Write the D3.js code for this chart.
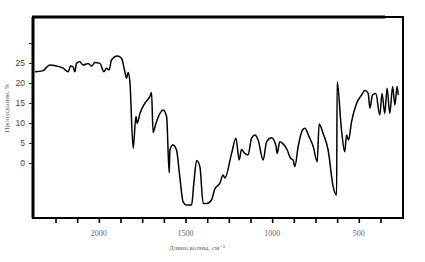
<!DOCTYPE html>
<html>
<head>
<meta charset="utf-8">
<script src="https://cdn.jsdelivr.net/npm/d3@7"></script>
<style>
  body { margin: 0; background: #fff; }
  svg { display: block; font-family: "Liberation Serif", "DejaVu Serif", serif; }
</style>
</head>
<body>
<div id="chart"></div>
<script>
// IR spectrum: wavenumber (cm-1) and transmittance (%)
var wavenumber = [2369, 2321, 2302, 2283, 2244, 2206, 2177, 2163, 2148, 2139, 2129, 2110, 2091, 2062, 2042, 2023,
    1994, 1971, 1956, 1941, 1927, 1894, 1869, 1850, 1840, 1831, 1821, 1802, 1786, 1779, 1763, 1735, 1706, 1696,
    1687, 1671, 1629, 1609, 1594, 1590, 1573, 1552, 1533, 1514, 1494, 1465, 1452, 1436, 1417, 1398, 1377, 1350,
    1331, 1302, 1283, 1273, 1234, 1209, 1190, 1177, 1158, 1139, 1119, 1100, 1081, 1052, 1032, 1004, 979, 971,
    956, 940, 913, 894, 879, 869, 850, 825, 811, 787, 763, 740, 729, 706, 677, 648, 628, 625, 600, 581, 571, 559,
    542, 513, 484, 465, 446, 436, 421, 402, 379, 366, 350, 337, 321, 305, 292, 279, 273];
var transmittance = [22.8, 23.1, 23.9, 24.5, 24.25, 23.7, 22.8, 24.25, 24, 22.8, 24.9, 25.3, 24.5, 24.9, 24.25, 25.1,
    24.9, 22.8, 23.7, 23.25, 25.75, 26.75, 26.2, 22.8, 21.2, 22.6, 20.3, 3.7, 11.6, 9.9, 12.4, 14.9, 16.6, 17.6,
    7.6, 9.9, 13.25, 11.6, -2.5, 3.25, 4.5, 3.25, -3.4, -9.7, -10.5, -10.5, -5.1, 0.6, -0.9, -10.1, -10.1, -9.25,
    -6.5, -5.1, -3, -3.75, 2.4, 6.2, 0.75, 3.4, 2.4, 2, 6.2, 7, 5.75, 0.75, 5.3, 6.3, 4.5, 2.4,
    5.3, 4.9, 3.25, 1.2, 0.75, -0.9, 4.1, 8.25, 8.7, 6.6, 4.1, 0.3, 9.75, 7.4, 3.25, -5.9, -8, 20.3, 8.25, 2.8, 7, 5.75,
    10.3, 14.9, 17, 18.1, 17.4, 13.7, 17, 17.4, 12, 17.4, 12.4, 18.7, 12.4, 19.1, 14.5, 19.1, 17];

var xTicks = [2250, 2125, 2000, 1875, 1750, 1625, 1500, 1375, 1250, 1125, 1000, 875, 750, 625, 500, 375];
var xLabels = [2000, 1500, 1000, 500];
var yTicks = [0, 5, 10, 15, 20, 25, 30];
var yLabels = [0, 5, 10, 15, 20, 25];

var ctx = {
    w: 425,
    h: 262,
    left: 33,
    right: 403,
    top: 17,
    bottom: 218
};

var svg = d3.select("#chart").append("svg")
    .attr("width", ctx.w)
    .attr("height", ctx.h);

var x = d3.scaleLinear()
    .domain([2380, 245])
    .range([ctx.left, ctx.right]);

var y = d3.scaleLinear()
    .domain([-13.75, 36.5])
    .range([ctx.bottom, ctx.top]);

// frame
svg.append("rect")
    .attr("x", ctx.left)
    .attr("y", ctx.top)
    .attr("width", ctx.right - ctx.left)
    .attr("height", ctx.bottom - ctx.top)
    .attr("fill", "none")
    .attr("stroke", "#000")
    .attr("stroke-width", 2);
svg.append("line")
    .attr("x1", ctx.left - 1).attr("x2", ctx.right - 18)
    .attr("y1", ctx.top).attr("y2", ctx.top)
    .attr("stroke", "#000").attr("stroke-width", 3);
svg.append("line")
    .attr("x1", ctx.left).attr("x2", ctx.left)
    .attr("y1", ctx.top).attr("y2", ctx.bottom)
    .attr("stroke", "#000").attr("stroke-width", 3);

// x axis ticks
var xAxis = svg.append("g")
    .attr("transform", "translate(0," + (ctx.bottom + 1) + ")")
    .call(d3.axisBottom(x).tickValues(xTicks).tickSize(4).tickFormat(""));
xAxis.select(".domain").remove();
xAxis.selectAll(".tick line").attr("stroke", "#000").attr("stroke-width", 1.6);

svg.append("g").selectAll("text")
    .data(xLabels)
    .enter()
    .append("text")
    .attr("x", d => x(d))
    .attr("y", 236)
    .attr("text-anchor", "middle")
    .attr("font-size", "8px")
    .attr("fill", "#666")
    .text(d => d);

// y axis ticks
var yAxis = svg.append("g")
    .attr("transform", "translate(" + (ctx.left - 1) + ",0)")
    .call(d3.axisLeft(y).tickValues(yTicks).tickSize(3).tickFormat(""));
yAxis.select(".domain").remove();
yAxis.selectAll(".tick line").attr("stroke", "#333").attr("stroke-width", 1);

svg.append("g").selectAll("text")
    .data(yLabels)
    .enter()
    .append("text")
    .attr("x", 25)
    .attr("y", d => y(d) + 3)
    .attr("text-anchor", "end")
    .attr("font-family", "Liberation Sans, Arial, sans-serif")
    .attr("font-size", "8.5px")
    .attr("fill", "#444")
    .text(d => d);

// axis titles
svg.append("text")
    .attr("transform", "translate(9,108) rotate(-90)")
    .attr("text-anchor", "middle")
    .attr("font-size", "7px")
    .attr("fill", "#665")
    .text("Пропускание, %");

svg.append("text")
    .attr("x", 197)
    .attr("y", 250)
    .attr("text-anchor", "middle")
    .attr("font-size", "7px")
    .attr("fill", "#666")
    .text("Длина волны, см⁻¹");

// spectrum
var data = wavenumber.map((w, i) => ({ w: w, t: transmittance[i] }));
var line = d3.line()
    .x(d => x(d.w))
    .y(d => y(d.t))
    .curve(d3.curveMonotoneX);

svg.append("path")
    .datum(data)
    .attr("d", line)
    .attr("fill", "none")
    .attr("stroke", "#000")
    .attr("stroke-width", 1.5)
    .attr("stroke-linejoin", "round");
</script>
</body>
</html>
